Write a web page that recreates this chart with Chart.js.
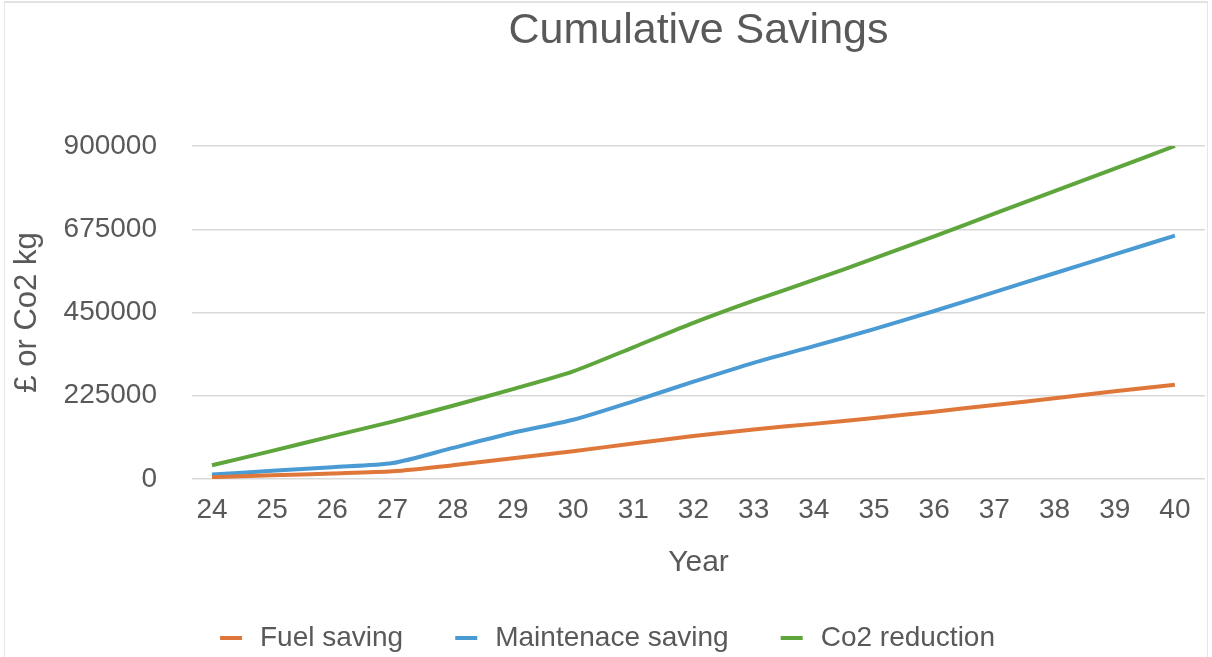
<!DOCTYPE html>
<html>
<head>
<meta charset="utf-8">
<script src="https://cdn.jsdelivr.net/npm/chart.js@4/dist/chart.umd.min.js"></script>
<style>
  html, body { margin: 0; padding: 0; background: #ffffff; }
  #wrap { position: relative; width: 1212px; height: 657px; }
  canvas { display: block; }
  #frame { position: absolute; left: 4px; top: 1px; width: 1202px; height: 660px;
           border-top: 2px solid #e2e2e2; border-left: 1px solid #e6e6e6; border-right: 1px solid #e6e6e6;
           pointer-events: none; }
</style>
</head>
<body>
<div id="wrap"><canvas id="c" width="1212" height="657"></canvas><div id="frame"></div></div>
<script>
// ---- data ----
const years = [24, 25, 26, 27, 28, 29, 30, 31, 32, 33, 34, 35, 36, 37, 38, 39, 40];
const fuelSaving = [5000, 10000, 15000, 21000, 37000, 56000, 75000, 96000, 116000, 134000, 149000, 165000, 182000, 200000, 218000, 237000, 255000];
const maintenanceSaving = [12000, 22000, 32000, 43000, 84000, 125000, 160000, 210000, 263000, 314000, 359000, 405000, 454000, 505000, 556000, 607000, 658000];
const co2Reduction = [37000, 76000, 116000, 155000, 198000, 243000, 291000, 356000, 422000, 482000, 538000, 596000, 656000, 717000, 778000, 839000, 900000];
const yTicks = [0, 225000, 450000, 675000, 900000];
const seriesNames = ['Fuel saving', 'Maintenace saving', 'Co2 reduction'];
const titleText = 'Cumulative Savings';
const xTitle = 'Year';
const yTitle = '£ or Co2 kg';

const colors = ['#E0773A', '#4A9AD4', '#5EA63B'];
const textColor = '#595959';
const family = "'Liberation Sans', Arial, sans-serif";

function marker(color) {
  const c = document.createElement('canvas');
  c.width = 36; c.height = 6;
  const g = c.getContext('2d');
  g.fillStyle = color;
  g.fillRect(10, 1, 22, 4);
  return c;
}

function pts(vals) { return years.map((y, i) => ({ x: y, y: vals[i] })); }

const seriesValues = [fuelSaving, maintenanceSaving, co2Reduction];
const datasets = seriesValues.map((vals, i) => ({
  label: seriesNames[i],
  data: pts(vals),
  borderColor: colors[i],
  backgroundColor: colors[i],
  borderWidth: 4,
  pointRadius: 0,
  pointHoverRadius: 0,
  pointStyle: marker(colors[i]),
  tension: 0.25,
  fill: false
}));

new Chart(document.getElementById('c'), {
  type: 'line',
  data: { datasets },
  options: {
    responsive: false,
    animation: false,
    events: [],
    layout: { padding: { left: 0, right: 7, top: 0, bottom: -5 } },
    plugins: {
      title: {
        display: true,
        text: titleText,
        fullSize: false,
        color: textColor,
        font: { family, size: 43, weight: 'normal' },
        padding: { top: 5, bottom: 89.4 }
      },
      legend: {
        position: 'bottom',
        labels: {
          usePointStyle: true,
          pointStyleWidth: 36,
          padding: 42,
          color: textColor,
          font: { family, size: 28 }
        }
      },
      tooltip: { enabled: false }
    },
    scales: {
      x: {
        type: 'linear',
        min: 23.668,
        max: 40.5,
        afterBuildTicks: (s) => { s.ticks = years.map(v => ({ value: v })); },
        afterFit: (s) => { s.height = 103; },
        grid: { display: false, drawTicks: false },
        border: { display: false },
        ticks: {
          color: textColor,
          font: { family, size: 28 },
          padding: 14.2,
          maxRotation: 0,
          autoSkip: false,
          callback: (v) => String(v)
        },
        title: {
          display: true,
          text: xTitle,
          color: textColor,
          font: { family, size: 30 },
          padding: { top: 0, bottom: 1 }
        }
      },
      y: {
        min: 0,
        max: 900000,
        afterBuildTicks: (s) => { s.ticks = yTicks.map(v => ({ value: v })); },
        afterFit: (s) => { s.width = 192; },
        grid: { color: '#d9d9d9', lineWidth: 1.5, drawTicks: false },
        border: { display: false },
        ticks: {
          color: textColor,
          font: { family, size: 28 },
          padding: 35,
          callback: (v) => String(v)
        },
        title: {
          display: true,
          text: yTitle,
          color: textColor,
          font: { family, size: 31 },
          padding: { top: 9, bottom: 0 }
        }
      }
    }
  }
});
</script>
</body>
</html>
